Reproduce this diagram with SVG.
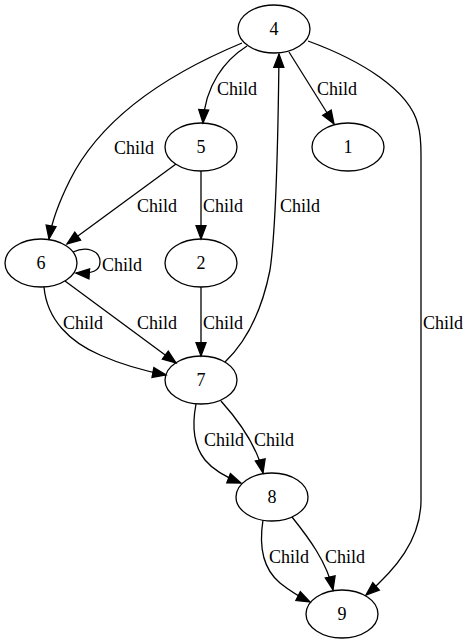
<svg xmlns="http://www.w3.org/2000/svg" width="467" height="644" viewBox="0 0 467 644">
  <style>
    .node ellipse { fill: none; stroke: #000; stroke-width: 1.3; }
    .node text { font-size: 18px; text-anchor: middle; fill: #000; }
    .edges path { fill: none; stroke: #000; stroke-width: 1.3; marker-end: url(#arrow); }
    .edges text { font-size: 18px; fill: #000; }
  </style>
  <defs>
    <marker id="arrow" markerUnits="userSpaceOnUse" markerWidth="16" markerHeight="14" viewBox="0 -7 14 14" refX="13.3" refY="0" orient="auto">
      <path d="M0,-5 L13.3,0 L0,5 Z" fill="#000" stroke="#000" stroke-width="1.3"/>
    </marker>
  </defs>
  <rect width="467" height="644" fill="#fff"/>

  <g class="edges" font-family="'Liberation Serif', 'Times New Roman', 'DejaVu Serif', serif">
    <!-- 4 -> 5 -->
    <path d="M247,46 C225,60 205,85 203,123"/>
    <text x="217" y="95">Child</text>
    <!-- 4 -> 1 -->
    <path d="M289,52 L334,124"/>
    <text x="317" y="95">Child</text>
    <!-- 4 -> 6 -->
    <path d="M242,43 C165,75 100,120 70,180 C60,200 52,220 49,239"/>
    <text x="114" y="154">Child</text>
    <!-- 5 -> 6 -->
    <path d="M176,164 L67,244"/>
    <text x="137" y="212">Child</text>
    <!-- 5 -> 2 -->
    <path d="M201,171 L201,239"/>
    <text x="203" y="212">Child</text>
    <!-- 7 -> 4 -->
    <path d="M225,362 C248,340 262,310 270,270 C276,230 278,150 279,54"/>
    <text x="280" y="212">Child</text>
    <!-- 6 -> 6 -->
    <path d="M73,252 C86,246 100,250 100,262 C100,271 92,274 76,273"/>
    <text x="102" y="271">Child</text>
    <!-- 6 -> 7 (curved) -->
    <path d="M44,287 C47,320 70,342 100,355 C125,366 145,371 166,375"/>
    <text x="63" y="329">Child</text>
    <!-- 6 -> 7 (straight) -->
    <path d="M65,281 L176,363"/>
    <text x="137" y="329">Child</text>
    <!-- 2 -> 7 -->
    <path d="M201,287 L201,356"/>
    <text x="203" y="329">Child</text>
    <!-- 4 -> 9 -->
    <path d="M308,41 C360,60 410,90 418,125 C421,135 421,145 421,155 L421,500 C421,540 395,570 366,595"/>
    <text x="423" y="329">Child</text>
    <!-- 7 -> 8 (left) -->
    <path d="M196,404 C192,425 193,445 205,460 C215,472 228,478 241,483"/>
    <text x="204" y="446">Child</text>
    <!-- 7 -> 8 (right) -->
    <path d="M221,401 C238,420 257,445 263,473"/>
    <text x="254" y="446">Child</text>
    <!-- 8 -> 9 (left) -->
    <path d="M263,520 C259,545 262,568 280,583 C290,591 300,597 310,602"/>
    <text x="269" y="563">Child</text>
    <!-- 8 -> 9 (right) -->
    <path d="M292,517 C308,537 327,562 333,590"/>
    <text x="325" y="563">Child</text>
  </g>

  <g font-family="'Liberation Serif', 'Times New Roman', 'DejaVu Serif', serif">
    <g id="node4" class="node"><ellipse cx="274" cy="29" rx="36" ry="24"/><text x="274" y="35">4</text></g>
    <g id="node5" class="node"><ellipse cx="201" cy="147" rx="36" ry="24"/><text x="201" y="153">5</text></g>
    <g id="node1" class="node"><ellipse cx="348" cy="147" rx="36" ry="24"/><text x="348" y="153">1</text></g>
    <g id="node6" class="node"><ellipse cx="41" cy="263" rx="36" ry="24"/><text x="41" y="269">6</text></g>
    <g id="node2" class="node"><ellipse cx="201" cy="263" rx="36" ry="24"/><text x="201" y="269">2</text></g>
    <g id="node7" class="node"><ellipse cx="201" cy="380" rx="36" ry="24"/><text x="201" y="386">7</text></g>
    <g id="node8" class="node"><ellipse cx="272" cy="497" rx="36" ry="24"/><text x="272" y="503">8</text></g>
    <g id="node9" class="node"><ellipse cx="342" cy="614" rx="36" ry="24"/><text x="342" y="620">9</text></g>
  </g>
</svg>
